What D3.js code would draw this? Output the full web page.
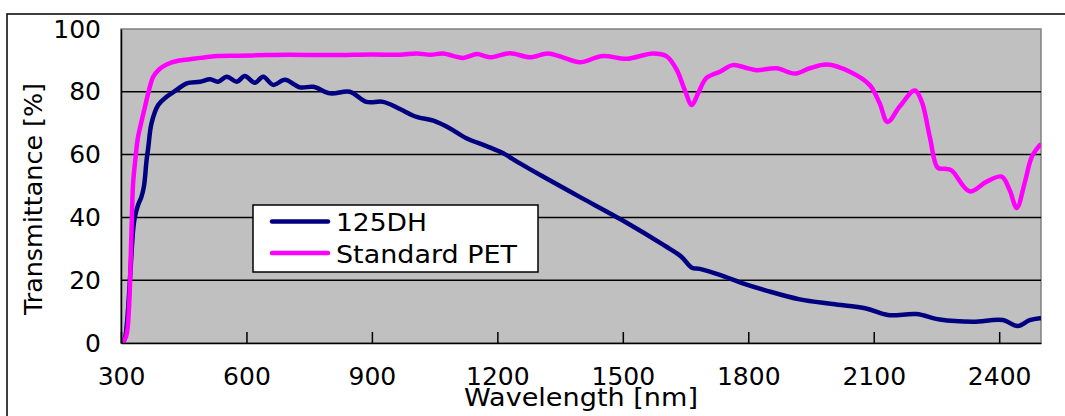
<!DOCTYPE html>
<html><head><meta charset="utf-8">
<script src="https://cdn.jsdelivr.net/npm/d3@7"></script>
<style>body{margin:0;background:#fff}svg{display:block}text{font-family:"DejaVu Sans",Verdana,sans-serif}</style>
</head><body><svg id="c" width="1065" height="416"></svg>
<script>
const seriesNames = ["125DH", "Standard PET"];
const seriesColors = ["#000080", "#FF00FF"];
const xTicks = [300, 600, 900, 1200, 1500, 1800, 2100, 2400];
const yTicks = [0, 20, 40, 60, 80, 100];

const wl125 = [300,308,314,319,324,329,333,341,349,355,361,365,373,389,409,433,457,489,513,532,553,577,596,620,640,664,692,728,760,800,847,887,927,967,1007,1047,1086,1126,1174,1214,1254,1309,1400,1500,1600,1640,1665,1684,1732,1787,1843,1923,2002,2082,2134,2202,2258,2337,2409,2444,2473,2497];
const t125 = [0,1,6,15,26,36,40,44,46.6,50,58,62,70,75.8,78.4,80.6,82.7,83.2,84,83.2,84.8,83.2,85,82.9,84.8,82.2,83.8,81.4,81.6,79.5,80,76.8,76.8,74.5,72,70.8,68.4,65.2,62.7,60.4,57.2,53,46.3,39,31,27.5,24,23.6,21.7,19,16.7,13.9,12.4,11,8.9,9.2,7.5,6.8,7.3,5.4,7.3,7.9];

const wlPET = [300,305,312,316,320,323,326,329,334,340,348,357,365,377,390,400,420,448,490,529,580,649,700,807,900,967,1007,1040,1070,1118,1151,1182,1230,1278,1321,1360,1397,1452,1509,1572,1605,1629,1648,1665,1680,1700,1732,1763,1796,1820,1868,1911,1947,1988,2043,2090,2114,2133,2162,2198,2215,2234,2253,2270,2286,2329,2370,2406,2425,2442,2461,2478,2497];
const tPET = [0,0.5,2,5,13.7,26,40,51,58,65,70,75,79.5,84.8,87,88,89.3,90.1,90.8,91.4,91.5,91.7,91.8,91.7,91.9,91.8,92.2,91.8,92.2,90.8,92,91,92.3,91,92.2,90.8,89.4,91.4,90.5,92.2,91.3,87,80.6,75.8,79.5,84.4,86.4,88.5,87.6,86.9,87.5,85.8,87.5,88.7,86.4,82.2,76.4,70.4,75.3,80.4,76.8,65.7,55.8,55.5,55,48.3,51.4,53,48.7,43,51,59.3,63];

const svg = d3.select("#c");
const L = 121, R = 1041, T = 29, B = 343;
const x = d3.scaleLinear().domain([300, 2500]).range([L, R]);
const y = d3.scaleLinear().domain([0, 100]).range([B, T]);

// outer frame
svg.append("rect").attr("x", 7).attr("y", 14).attr("width", 1080).attr("height", 430)
  .attr("fill", "none").attr("stroke", "#000").attr("stroke-width", 1.5);

// plot background
svg.append("rect").attr("x", L).attr("y", T).attr("width", R - L).attr("height", B - T)
  .attr("fill", "#C0C0C0").attr("stroke", "#808080").attr("stroke-width", 1.5);

// gridlines
svg.append("g").selectAll("line").data(yTicks.filter(v => v > 0 && v < 100)).join("line")
  .attr("x1", L).attr("x2", R).attr("y1", d => y(d)).attr("y2", d => y(d))
  .attr("stroke", "#000").attr("stroke-width", 1.5);

// clip
svg.append("clipPath").attr("id", "clip").append("rect")
  .attr("x", L).attr("y", T - 5).attr("width", R - L).attr("height", B - T + 5);

const line = d3.line().x(d => x(d[0])).y(d => y(d[1])).curve(d3.curveCatmullRom.alpha(0.5));
const data = [d3.zip(wl125, t125), d3.zip(wlPET, tPET)];
svg.append("g").attr("clip-path", "url(#clip)").selectAll("path").data([0, 1]).join("path")
  .attr("d", i => line(data[i])).attr("fill", "none")
  .attr("stroke", i => seriesColors[i]).attr("stroke-width", 4.5)
  .attr("stroke-linejoin", "round").attr("stroke-linecap", "round");

// axes
const xAxis = d3.axisBottom(x).tickValues(xTicks).tickSizeInner(-11).tickSizeOuter(0).tickPadding(24).tickFormat(d3.format("d"));
const gx = svg.append("g").attr("transform", `translate(0,${B})`).call(xAxis);
gx.select(".domain").attr("stroke", "#000").attr("stroke-width", 1.5);
gx.selectAll(".tick line").attr("stroke", "#000").attr("stroke-width", 1.5);
gx.selectAll(".tick text").attr("font-size", 25).attr("fill", "#000").style("font-family", "DejaVu Sans");

const yAxis = d3.axisLeft(y).tickValues(yTicks).tickSize(0).tickPadding(20);
const gy = svg.append("g").attr("transform", `translate(${L},0)`).call(yAxis);
gy.select(".domain").attr("stroke", "#000").attr("stroke-width", 1.5);
gy.selectAll(".tick text").attr("font-size", 25).attr("fill", "#000").style("font-family", "DejaVu Sans");

// axis titles
svg.append("text").attr("x", 581).attr("y", 406).attr("text-anchor", "middle")
  .attr("font-size", 25).attr("textLength", 234).attr("lengthAdjust", "spacingAndGlyphs")
  .text("Wavelength [nm]");
svg.append("text").attr("transform", "translate(42,199) rotate(-90)").attr("text-anchor", "middle")
  .attr("font-size", 25).attr("textLength", 232).attr("lengthAdjust", "spacingAndGlyphs")
  .text("Transmittance [%]");

// legend
const legendLen = [91, 181];
const lg = svg.append("g");
lg.append("rect").attr("x", 253).attr("y", 205).attr("width", 285).attr("height", 67)
  .attr("fill", "#fff").attr("stroke", "#000").attr("stroke-width", 1.5);
const rows = lg.selectAll("g.row").data(seriesNames).join("g").attr("class", "row")
  .attr("transform", (d, i) => `translate(0,${221.5 + i * 31.5})`);
rows.append("line").attr("x1", 272).attr("x2", 328).attr("y1", 0).attr("y2", 0)
  .attr("stroke", (d, i) => seriesColors[i]).attr("stroke-width", 4.5).attr("stroke-linecap", "round");
rows.append("text").attr("x", 336).attr("y", 9.5).attr("font-size", 25)
  .attr("textLength", (d, i) => legendLen[i]).attr("lengthAdjust", "spacingAndGlyphs").text(d => d);
</script></body></html>
